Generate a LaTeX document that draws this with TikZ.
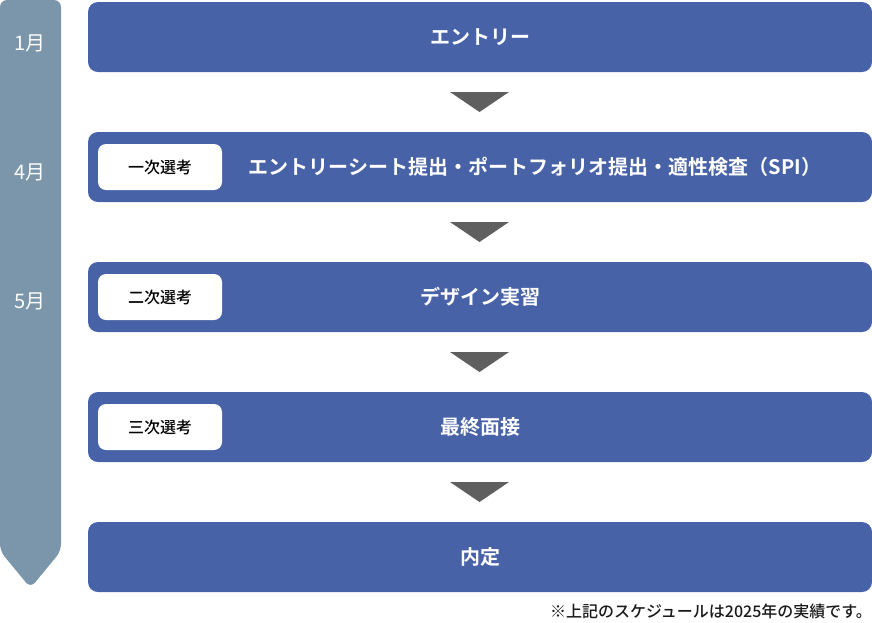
\documentclass[tikz,border=0pt]{standalone}
\usepackage{fontspec}
\setmainfont{Noto Sans CJK JP}[BoldFont={Noto Sans CJK JP Bold}]
\newfontfamily\jpmed{Noto Sans CJK JP Medium}
\definecolor{barc}{HTML}{7B96AB}
\definecolor{boxc}{HTML}{4862A8}
\definecolor{tric}{HTML}{5F5F5F}
\definecolor{notec}{HTML}{1A1A1A}
\begin{document}
\begin{tikzpicture}[x=1pt,y=-1pt,
  stage/.style={fill=boxc, rounded corners=10pt, minimum width=784pt, minimum height=70pt, inner sep=0pt, text=white, font=\fontsize{20pt}{22pt}\selectfont\bfseries},
  stagetext/.style={text=white, inner sep=0pt, font=\fontsize{20pt}{22pt}\selectfont\bfseries},
  tag/.style={fill=white, rounded corners=8pt, minimum width=124pt, minimum height=46pt, inner sep=0pt, text=black, font=\fontsize{16pt}{18pt}\selectfont\jpmed},
  month/.style={text=white, inner sep=0pt, font=\fontsize{20pt}{22pt}\selectfont},
  tri/.style={fill=tric}]
\useasboundingbox (0,0) rectangle (872,622);
% timeline bar
\fill[barc, rounded corners=7pt] (0,0) -- (61,0) -- (61,551) -- (30.5,588) -- (0,551) -- cycle;
\node[month] (m1) at (30,43) {1月};
\node[month] (m4) at (30,172) {4月};
\node[month] (m5) at (30,301) {5月};
% stages
\node[stage] (s1) at (480,37) {エントリー};
\node[stage] (s2) at (480,167) {};
\node[stage] (s3) at (480,297) {デザイン実習};
\node[stage] (s4) at (480,427) {最終面接};
\node[stage] (s5) at (480,557) {内定};
\node[stagetext] (t2) at (535,167) {エントリーシート提出・ポートフォリオ提出・適性検査（SPI）};
% tags
\node[tag] (g2) at (160,167) {一次選考};
\node[tag] (g3) at (160,297) {二次選考};
\node[tag] (g4) at (160,427) {三次選考};
% arrows
\foreach \y in {92,222,352,482} {
  \fill[tri] (450,\y) -- (509,\y) -- (479.5,\y+20) -- cycle;
}
\node[anchor=east, inner sep=0pt, text=notec, font=\fontsize{16pt}{18pt}\selectfont\jpmed] (note) at (872,611) {※上記のスケジュールは2025年の実績です。};
\end{tikzpicture}
\end{document}
